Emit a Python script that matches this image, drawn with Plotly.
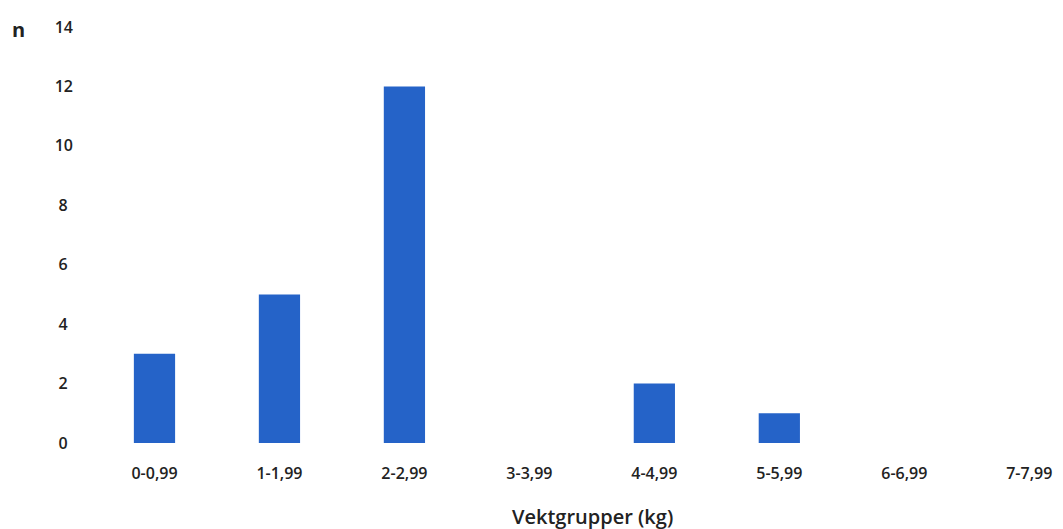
import plotly.graph_objects as go

categories = ["0-0,99", "1-1,99", "2-2,99", "3-3,99", "4-4,99", "5-5,99", "6-6,99", "7-7,99"]
counts = [3, 5, 12, 0, 2, 1, 0, 0]
y_ticks = [0, 2, 4, 6, 8, 10, 12, 14]
y_tick_labels = ["0\u2004", "2\u2004", "4\u2004", "6\u2004", "8\u2004", "10", "12", "14"]

fig = go.Figure(go.Bar(
    x=categories, y=counts, width=0.33,
    marker=dict(color="#2563c8", line=dict(width=0)),
))

# page body has an 8px margin: figure coords = viewport coords - 8
font_main = "'Open Sans', sans-serif"
fig.update_layout(
    width=1063, height=529,
    margin=dict(l=84, r=8, t=19, b=94, autoexpand=False),
    paper_bgcolor="white", plot_bgcolor="white",
    showlegend=False,
    font=dict(family=font_main, color="#222222"),
    xaxis=dict(
        range=[-0.5, 7.27], showgrid=False, showline=False, zeroline=False,
        ticks="", ticklabelstandoff=19, automargin=False,
        tickfont=dict(size=16, family=font_main, weight=600),
    ),
    yaxis=dict(
        range=[0, 14], tickvals=y_ticks, ticktext=y_tick_labels,
        showgrid=False, showline=False, zeroline=False,
        ticks="", ticklabelstandoff=18, automargin=False,
        tickfont=dict(size=16, family=font_main, weight=600),
    ),
    annotations=[
        dict(text="n", xref="paper", yref="paper", x=-0.0762, y=0.993,
             xanchor="center", yanchor="middle", showarrow=False,
             font=dict(size=20, family=font_main, color="#222222", weight=700)),
        dict(text="Vektgrupper (kg)", xref="paper", yref="paper", x=(592 - 92) / 971, y=-0.1755,
             xanchor="center", yanchor="middle", showarrow=False,
             font=dict(size=20, family=font_main, color="#222222", weight=600)),
    ],
)

fig.write_html("out.html")
